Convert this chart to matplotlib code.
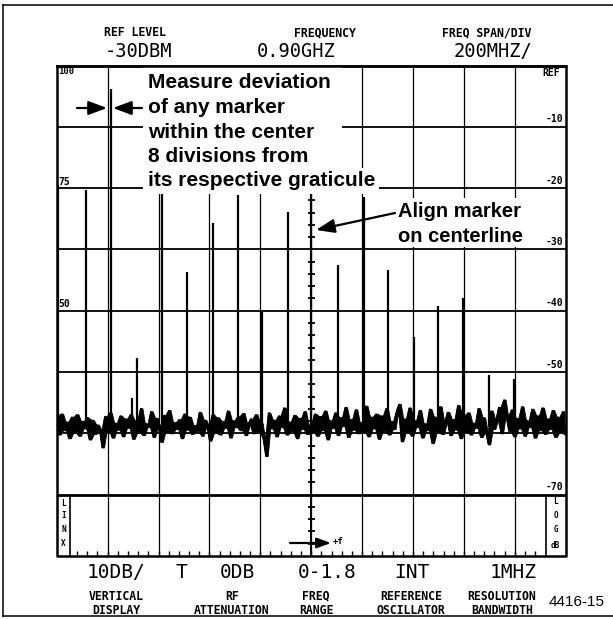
import matplotlib
matplotlib.use("Agg")
import matplotlib.pyplot as plt
from matplotlib.lines import Line2D
from matplotlib.patches import Rectangle, FancyArrowPatch
import numpy as np

# ---------------- data ----------------
header_names = ["REF LEVEL", "FREQUENCY", "FREQ SPAN/DIV"]
header_values = ["-30DBM", "0.90GHZ", "200MHZ/"]

# comb markers: frequency (GHz) and peak level (dB below reference)
marker_freq_ghz = [-0.094, 0.015, 0.113, 0.195, 0.214, 0.313, 0.411, 0.514, 0.611, 0.705,
                   0.808, 0.900, 1.006, 1.107, 1.203, 1.303, 1.399, 1.498, 1.599, 1.698]
marker_db = [-19.5, -20.3, -3.8, -54.2, -47.7, -21.0, -33.7, -25.7, -21.1, -40.2,
             -23.9, -21.0, -32.5, -21.5, -33.4, -44.2, -39.3, -38.0, -50.5, -51.1]

# noise floor trace (dB), read left to right across the screen
noise_db = [
    -57.0, -60.2, -56.8, -59.5, -58.1, -60.8, -57.3, -59.9, -56.9, -60.4, -58.0, -59.2, -57.4,
    -61.0, -57.8, -60.1, -58.6, -59.4, -62.3, -57.2, -59.6, -56.6, -60.7, -58.3, -59.4,
    -57.1, -60.5, -57.6, -59.1, -56.9, -60.9, -57.9, -59.8, -55.9, -60.3, -58.4, -59.0, -56.4,
    -60.6, -57.5, -58.9, -61.4, -57.0, -59.7, -56.2, -60.0, -58.2, -59.3, -57.7, -60.8,
    -56.8, -59.4, -57.3, -60.1, -58.7, -59.6, -56.5, -60.4, -57.8, -58.8, -61.2, -56.9, -59.9,
    -57.4, -60.2, -58.0, -59.1, -56.3, -60.7, -57.9, -59.0, -57.2, -59.5, -56.7, -60.3,
    -58.5, -57.6, -60.0, -56.9, -59.7, -58.3, -60.9, -63.7, -56.6, -59.2, -57.8, -60.5, -57.1,
    -59.0, -55.8, -60.2, -58.1, -59.6, -57.0, -60.8, -57.5, -59.3, -56.4, -60.1, -58.6,
    -59.8, -56.8, -60.4, -57.2, -59.5, -56.3, -61.0, -57.9, -59.1, -56.6, -60.3, -57.4, -58.8,
    -55.7, -60.6, -57.7, -59.4, -56.1, -60.0, -58.2, -59.7, -55.5, -60.5, -57.3, -59.2,
    -56.8, -60.9, -57.1, -59.6, -55.9, -60.2, -58.0, -59.3, -56.4, -55.2, -61.3, -57.6, -59.8,
    -55.8, -60.4, -57.9, -59.0, -56.2, -60.7, -58.4, -59.5, -56.0, -61.6, -57.3, -59.9,
    -55.6, -60.1, -58.1, -56.5, -60.3, -57.7, -59.4, -55.4, -60.8, -57.0, -59.7, -56.6, -60.2,
    -58.3, -59.1, -55.9, -60.6, -57.4, -59.8, -61.8, -56.3, -59.3, -57.8, -55.7, -60.0,
    -54.5, -57.2, -59.6, -56.1, -60.5, -57.5, -59.2, -55.6, -60.4, -57.9, -59.0, -56.0, -60.7,
    -57.1, -59.5, -55.8, -60.1, -57.6, -59.3, -56.2, -60.6, -57.3, -59.8, -56.4, -60.2,
]

right_labels = ["REF", "-10", "-20", "-30", "-40", "-50", "-70"]
right_label_db = [0, -10, -20, -30, -40, -50, -70]
left_labels = ["100", "75", "50"]
left_label_db = [0, -20, -40]

readout_values = ["10DB/", "T", "0DB", "0-1.8", "INT", "1MHZ"]
readout_names = ["VERTICAL\nDISPLAY", "RF\nATTENUATION", "FREQ\nRANGE",
                 "REFERENCE\nOSCILLATOR", "RESOLUTION\nBANDWIDTH"]

note_lines = ["Measure deviation", "of any marker", "within the center",
              "8 divisions from", "its respective graticule"]
align_lines = ["Align marker", "on centerline"]
figure_id = "4416-15"

# ---------------- figure ----------------
W, H = 613, 619
fig = plt.figure(figsize=(W / 100, H / 100), dpi=100)
fig.patch.set_facecolor("white")


def fx(x):
    return x / W


def fy(y):
    return 1 - y / H


MONO = "DejaVu Sans Mono"
SANS = "Liberation Sans"

# graticule axes (pixel box 56.7..565.7 x 65.5..556)
GL, GR, GT, GB = 56.7, 565.7, 65.5, 556.0
ax = fig.add_axes([fx(GL), fy(GB), (GR - GL) / W, (GB - GT) / H])
ax.set_xlim(-0.1, 1.9)
ax.set_ylim(-80, 0)
ax.axis("off")
XPX = (GR - GL) / 2.0   # px per GHz
YPX = (GB - GT) / 80.0  # px per dB

# grid
for k in range(1, 10):
    ax.axvline(-0.1 + 0.2 * k, color="black", lw=0.9, zorder=1)
for k in range(1, 8):
    ax.axhline(-10 * k, color="black", lw=2.0 if k == 7 else 1.3, zorder=1)

# centre line ticks
tk = [-2 * k for k in range(1, 40) if k % 5]
ax.hlines(tk, 0.9 - 3.5 / XPX, 0.9 + 3.5 / XPX, color="black", lw=1.3, zorder=3)
ax.axvline(0.9, color="black", lw=1.4, zorder=3)

# bottom-edge small ticks
lin_x = -0.1 + (70 - GL) / XPX
log_x = -0.1 + (545.7 - GL) / XPX
bt = [-0.1 + 0.04 * k for k in range(1, 50)]
bt = [v for v in bt if lin_x + 0.01 < v < log_x - 0.01]
ax.vlines(bt, -80, -80 + 5 / YPX, color="black", lw=1.0, zorder=3)

# LIN / LOG boxes
ax.vlines([lin_x, log_x], -80, -70, color="black", lw=1.2, zorder=3)
for s, yy in zip(["L", "I", "N", "X"], [503, 516, 529, 543]):
    fig.text(fx(63.5), fy(yy), s, fontsize=5.5, fontweight="bold", family=MONO,
             ha="center", va="center")
for s, yy in zip(["L", "O", "G", "dB"], [502, 515, 530, 546]):
    fig.text(fx(555.7), fy(yy), s, fontsize=5.5, fontweight="bold", family=MONO,
             ha="center", va="center")

# noise trace (dense analyser trace: fill between consecutive samples)
nv = np.asarray(noise_db)
nx = np.linspace(-0.1, 1.9, len(nv))
lo = np.minimum(nv[:-1], nv[1:])
hi = np.maximum(nv[:-1], nv[1:])
xm = (nx[:-1] + nx[1:]) / 2
ax.fill_between(xm, lo, hi, color="black", lw=0.6, zorder=2)
ax.plot(nx, nv, color="black", lw=1.3, zorder=2, solid_joinstyle="miter")
ax.vlines(marker_freq_ghz, -59.0, marker_db, color="black", lw=1.6, zorder=2)

# graticule border
ax.plot([-0.1, 1.9, 1.9, -0.1, -0.1], [0, 0, -80, -80, 0], color="black", lw=1.8,
        zorder=10, clip_on=False)

# scale labels
for s, v in zip(right_labels, right_label_db):
    if v == 0:
        ax.text(1.9 - 6 / XPX, v - 2.5 / YPX, s, ha="right", va="top", fontsize=7,
                fontweight="bold", family=MONO, zorder=11)
    else:
        ax.text(1.9 - 2.5 / XPX, v + 2.5 / YPX, s, ha="right", va="bottom", fontsize=7,
                fontweight="bold", family=MONO, zorder=11)
for s, v in zip(left_labels, left_label_db):
    if v == 0:
        ax.text(-0.1 + 1.5 / XPX, v - 1.5 / YPX, s, ha="left", va="top", fontsize=6.5,
                fontweight="bold", family=MONO, zorder=11)
    else:
        ax.text(-0.1 + 1.5 / XPX, v + 1.5 / YPX, s, ha="left", va="bottom", fontsize=7,
                fontweight="bold", family=MONO, zorder=11)

# header readouts
for name, val, xn, xv in zip(header_names, header_values, [135, 325, 487], [139, 296, 493]):
    fig.text(fx(xn), fy(32.5), name, ha="center", va="center", fontsize=8.3,
             fontweight="bold", family=MONO)
    fig.text(fx(xv), fy(51.5), val, ha="center", va="center", fontsize=13.5, family=MONO)

# bottom readouts
for val, xv in zip(readout_values, [116, 181, 237, 327, 412, 513]):
    fig.text(fx(xv), fy(572), val, ha="center", va="center", fontsize=14, family=MONO)
for name, xn in zip(readout_names, [116, 232, 316, 411, 502]):
    l1, l2 = name.split("\n")
    fig.text(fx(xn), fy(596), l1, ha="center", va="center", fontsize=8.3,
             fontweight="bold", family=MONO)
    fig.text(fx(xn), fy(610), l2, ha="center", va="center", fontsize=8.3,
             fontweight="bold", family=MONO)
fig.text(fx(577), fy(602), figure_id, ha="center", va="center", fontsize=11, family=SANS)

# +f arrow at bottom of centre line
fig.add_artist(FancyArrowPatch(
    (fx(290), fy(543)), (fx(331), fy(543)), transform=fig.transFigure,
    arrowstyle="-|>,head_length=0.6,head_width=0.22", mutation_scale=14,
    color="black", lw=1.6, shrinkA=0, shrinkB=0))
fig.text(fx(333), fy(541), "+f", ha="left", va="center", fontsize=6.5,
         fontweight="bold", family=MONO)


# white masks behind the annotation blocks
def mask(x0, y0, x1, y1):
    fig.add_artist(Rectangle((fx(x0), fy(y1)), fx(x1) - fx(x0), fy(y0) - fy(y1),
                             transform=fig.transFigure, facecolor="white",
                             edgecolor="none", zorder=7))


mask(143, 66, 342, 192)
mask(393, 198, 530, 247)

# annotation text
bases = [88.5, 113.0, 137.5, 162.0, 186.5]
for s, b in zip(note_lines, bases):
    fig.text(fx(148), fy(b), s, ha="left", va="baseline", fontsize=15,
             fontweight="bold", family=SANS, zorder=8,
             bbox=dict(facecolor="white", edgecolor="none", pad=2.5))
for s, b in zip(align_lines, [217.2, 241.7]):
    fig.text(fx(398), fy(b), s, ha="left", va="baseline", fontsize=14.5,
             fontweight="bold", family=SANS, zorder=8)

# redraw graticule top border over the masks
fig.add_artist(Line2D([fx(GL), fx(GR)], [fy(GT), fy(GT)], color="black", lw=1.8, zorder=12))


# arrows
def farrow(x0, y0, x1, y1):
    fig.add_artist(FancyArrowPatch(
        (fx(x0), fy(y0)), (fx(x1), fy(y1)), transform=fig.transFigure,
        arrowstyle="-|>,head_length=0.8,head_width=0.3", mutation_scale=14,
        color="black", lw=1.6, shrinkA=0, shrinkB=0, zorder=12))


farrow(77, 108, 107, 108)
farrow(142, 108, 113, 108)
farrow(395, 213, 316, 230)

# outer frame
for (x0, y0, x1, y1) in [(3, 4.5, 613, 4.5), (3, 4.5, 3, 616), (3, 616, 613, 616)]:
    fig.add_artist(Line2D([fx(x0), fx(x1)], [fy(y0), fy(y1)], color="black", lw=1.1))

fig.savefig("out.png", dpi=100, facecolor="white")
